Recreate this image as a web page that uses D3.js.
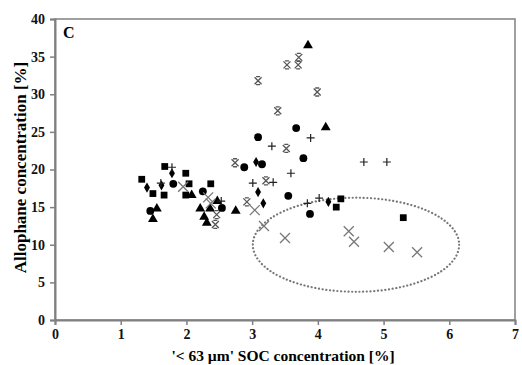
<!DOCTYPE html>
<html>
<head>
<meta charset="utf-8">
<script src="https://cdn.jsdelivr.net/npm/d3@7"></script>
<style>
  body { margin: 0; background: #fff; }
  text { font-family: "Liberation Serif", "Times New Roman", serif; font-weight: bold; }
</style>
</head>
<body>
<div id="chart"></div>
<script>
// data: [SOC %, allophane %]
const squares = [[1.32,18.7],[1.67,20.4],[1.99,19.5],[2.04,18.1],[1.49,16.8],[1.66,16.6],[1.99,16.6],[2.37,18.1],[4.35,16.1],[4.28,15.0],[5.3,13.6]];
const diamonds = [[1.40,17.6],[1.78,19.5],[3.06,21.0],[3.09,17.0],[3.17,15.5],[4.16,15.7],[1.62,17.9]];
const circles = [[1.80,18.1],[2.88,20.3],[3.15,20.7],[2.25,17.1],[2.54,14.9],[1.45,14.5],[3.78,21.5],[3.55,16.5],[3.88,14.1],[3.67,25.5],[3.09,24.3]];
const triangles = [[3.85,36.5],[4.12,25.6],[1.49,13.4],[1.55,14.8],[2.08,16.6],[2.21,14.8],[2.36,14.8],[2.47,15.8],[2.75,14.5],[2.27,13.7],[2.31,12.9]];
const pluses = [[1.78,20.3],[1.61,18.2],[2.53,15.8],[3.01,18.2],[3.32,18.3],[3.59,19.5],[3.30,23.1],[3.89,24.2],[4.70,21.0],[5.05,21.0],[3.84,15.5],[4.02,16.2]];
const stars = [[3.71,34.9],[3.70,33.9],[3.53,33.9],[3.09,31.8],[3.99,30.3],[3.39,27.8],[3.52,22.8],[3.21,18.5],[2.92,15.7],[2.74,20.9],[2.44,12.7],[2.46,14.0]];
const crosses = [[1.95,17.7],[2.33,16.3],[2.37,15.5],[3.04,14.6],[3.18,12.5],[3.50,10.9],[4.47,11.8],[4.55,10.4],[5.08,9.7],[5.51,9.0]];
const ellipse = { cx: 4.58, cy: 10.0, rx: 1.57, ry: 6.25 };
const xTicks = [0,1,2,3,4,5,6,7];
const yTicks = [0,5,10,15,20,25,30,35,40];

const W = 522, H = 365;
const margin = { top: 19, right: 7, bottom: 45, left: 55 };
const width = W - margin.left - margin.right;
const height = H - margin.top - margin.bottom;

const svg = d3.select('#chart').append('svg')
  .attr('width', W).attr('height', H)
  .append('g')
  .attr('transform', `translate(${margin.left},${margin.top})`);

const x = d3.scaleLinear().domain([0,7]).range([0,width]);
const y = d3.scaleLinear().domain([0,40]).range([height,0]);

const axisCol = '#808080';

// frame (top/right)
svg.append('rect')
  .attr('width', width).attr('height', height)
  .attr('fill', 'none').attr('stroke', axisCol).attr('stroke-width', 1.5);

// axes
const xa = svg.append('g').attr('transform', `translate(0,${height})`)
  .call(d3.axisBottom(x).tickValues(xTicks).tickSize(5).tickPadding(4).tickFormat(d3.format('d')));
const ya = svg.append('g')
  .call(d3.axisLeft(y).tickValues(yTicks).tickSize(5).tickPadding(5).tickFormat(d3.format('d')));
[xa, ya].forEach(a => {
  a.select('.domain').attr('stroke', axisCol).attr('stroke-width', 2);
  a.selectAll('.tick line').attr('stroke', axisCol).attr('stroke-width', 1.5);
  a.selectAll('.tick text').attr('fill', '#111').style('font-size', '14px')
    .style('font-family', '"Liberation Serif", serif').style('font-weight', 'bold');
});

// ellipse annotation
svg.append('ellipse')
  .attr('cx', x(ellipse.cx)).attr('cy', y(ellipse.cy))
  .attr('rx', x(ellipse.rx) - x(0)).attr('ry', y(0) - y(ellipse.ry))
  .attr('fill', 'none').attr('stroke', '#777').attr('stroke-width', 2.2)
  .attr('stroke-dasharray', '0.1 3.6').attr('stroke-linecap', 'round');

// markers
const sym = (data, type, size) => svg.append('g').selectAll('path').data(data).enter().append('path')
  .attr('transform', d => `translate(${x(d[0])},${y(d[1])})`)
  .attr('d', d3.symbol().type(type).size(size)())
  .attr('fill', '#000');

sym(squares, d3.symbolSquare, 46);
sym(circles, d3.symbolCircle, 48);
sym(triangles, d3.symbolTriangle, 42);
sym(diamonds, d3.symbolDiamond, 30);

const line = (data, fn, col, w) => svg.append('g').selectAll('path').data(data).enter().append('path')
  .attr('transform', d => `translate(${x(d[0])},${y(d[1])})`)
  .attr('d', fn).attr('fill', 'none').attr('stroke', col).attr('stroke-width', w);

line(pluses, 'M-4,0H4M0,-4V4', '#222', 1.2);
line(crosses, 'M-5,-5L5,5M-5,5L5,-5', '#777', 1.3);
line(stars, 'M-3.5,-3.5L3.5,3.5M-3.5,3.5L3.5,-3.5M-2,-4H2M-2,4H2', '#555', 1.3);

// panel letter
svg.append('text').attr('x', 8).attr('y', 19)
  .style('font-size', '16px').text('C');

// axis titles
svg.append('text')
  .attr('x', width / 2 - 2).attr('y', height + 41)
  .attr('text-anchor', 'middle').style('font-size', '15.5px')
  .text("'< 63 µm' SOC concentration [%]");

svg.append('text')
  .attr('transform', `translate(${-29},${height / 2 - 2}) rotate(-90)`)
  .attr('text-anchor', 'middle').style('font-size', '17px')
  .text('Allophane concentration [%]');
</script>
</body>
</html>
